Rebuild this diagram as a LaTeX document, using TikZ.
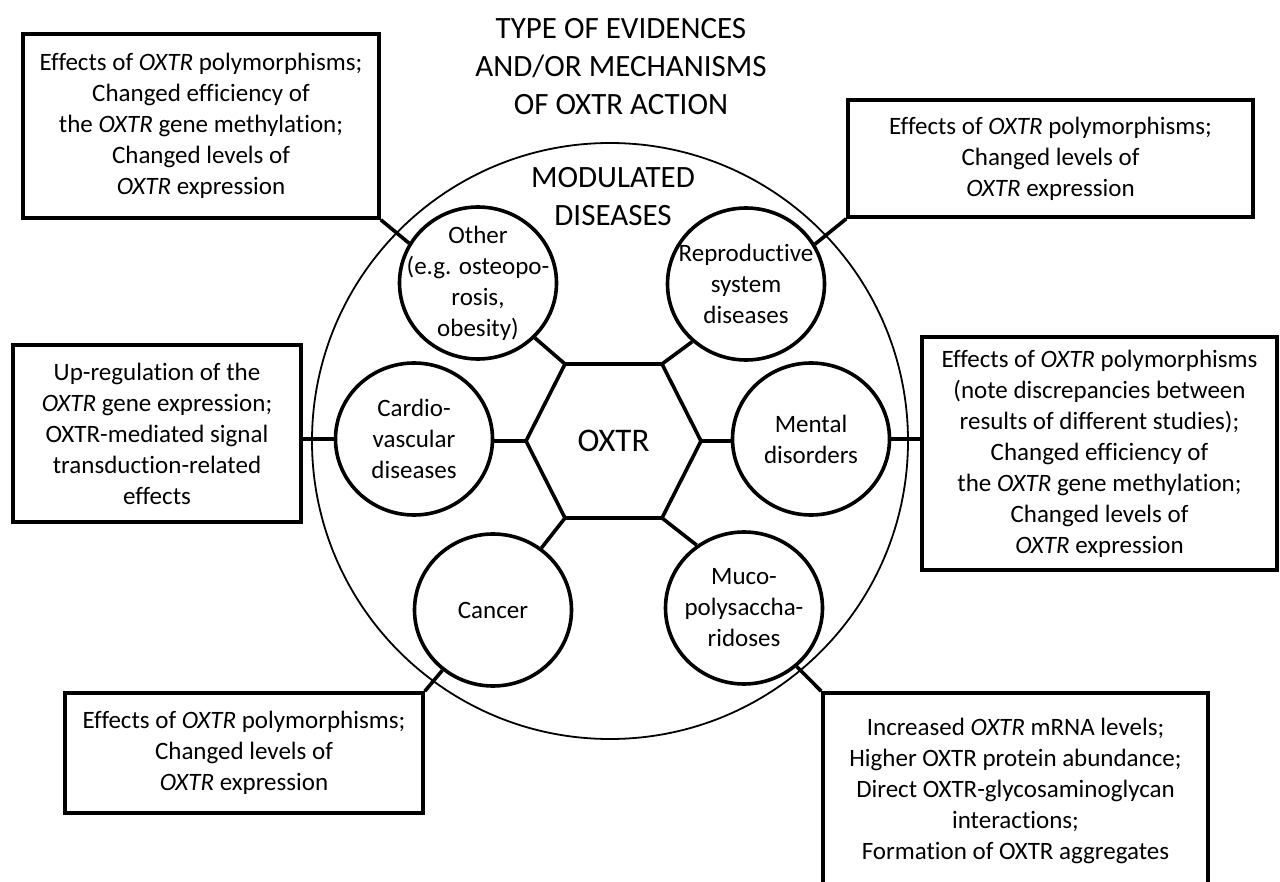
\documentclass[tikz,border=0pt]{standalone}
\usepackage{fontspec}
\setmainfont{Carlito}[Ligatures=NoCommon]
\usetikzlibrary{shapes.geometric}
\begin{document}
\begin{tikzpicture}[x=1pt,y=-1pt,
  txt/.style={font=\fontsize{25}{31}\selectfont, align=center, inner sep=0pt},
  bigtxt/.style={font=\fontsize{31}{38}\selectfont, align=center, inner sep=0pt},
  infobox/.style={draw, line width=3.6pt, txt},
  disease/.style={ellipse, draw, line width=3.6pt, minimum width=157pt, minimum height=152pt, inner sep=0pt},
  link/.style={line width=3.6pt},
  hexline/.style={line width=3.6pt, line join=miter}
]
\useasboundingbox (0,0) rectangle (1280,882);
\clip (0,0) rectangle (1280,882);

% outer circle
\node[circle, draw, line width=1.8pt, minimum size=596pt, inner sep=0pt] (outer) at (610,441) {};

% titles
\node[bigtxt] (title) at (621,67) {TYPE OF EVIDENCES\\AND/OR MECHANISMS\\OF OXTR ACTION};
\node[bigtxt] (modtitle) at (613,197) {MODULATED\\DISEASES};

% hexagon
\coordinate (hTL) at (565,364);
\coordinate (hTR) at (662,364);
\coordinate (hR) at (701,441);
\coordinate (hBR) at (662,518);
\coordinate (hBL) at (565,518);
\coordinate (hL) at (526,441);
\draw[hexline] (hTL) -- (hTR) -- (hR) -- (hBR) -- (hBL) -- (hL) -- cycle;
\node[font=\fontsize{33}{38}\selectfont, inner sep=0pt] (oxtr) at (613.5,441) {OXTR};

% disease circles
\node[disease] (other) at (478,283) {};
\node[txt] (otherT) at (other) {Other\\(e.g. osteopo-\\rosis,\\obesity)};
\node[disease] (repro) at (746,284) {};
\node[txt] (reproT) at (repro) {Reproductive\\system\\diseases};
\node[disease] (cardio) at (414,439) {};
\node[txt] (cardioT) at (cardio) {Cardio-\\vascular\\diseases};
\node[disease] (mental) at (811,439) {};
\node[txt] (mentalT) at (mental) {Mental\\disorders};
\node[disease] (cancer) at (493,610) {};
\node[txt] (cancerT) at (cancer) {Cancer};
\node[disease] (muco) at (744,608) {};
\node[txt] (mucoT) at (muco) {Muco-\\polysaccha-\\ridoses};

% evidence boxes
\node[infobox, minimum width=356pt, minimum height=184pt] (tl) at (201,126)
  {Effects of \textit{OXTR} polymorphisms;\\Changed efficiency of\\the \textit{OXTR} gene methylation;\\Changed levels of\\\textit{OXTR} expression};
\node[infobox, minimum width=405pt, minimum height=117pt] (tr) at (1050.5,158.5)
  {Effects of \textit{OXTR} polymorphisms;\\Changed levels of\\\textit{OXTR} expression};
\node[infobox, minimum width=288pt, minimum height=177pt] (lm) at (157,433.5)
  {Up-regulation of the\\\textit{OXTR} gene expression;\\OXTR-mediated signal\\transduction-related\\effects};
\node[infobox, minimum width=355pt, minimum height=233pt] (rm) at (1099.5,453.5)
  {Effects of \textit{OXTR} polymorphisms\\(note discrepancies between\\results of different studies);\\Changed efficiency of\\the \textit{OXTR} gene methylation;\\Changed levels of\\\textit{OXTR} expression};
\node[infobox, minimum width=358pt, minimum height=120pt] (bl) at (244,753)
  {Effects of \textit{OXTR} polymorphisms;\\Changed levels of\\\textit{OXTR} expression};
\node[infobox, minimum width=385pt, minimum height=196pt] (br) at (1015.5,791)
  {Increased \textit{OXTR} mRNA levels;\\Higher OXTR protein abundance;\\Direct OXTR-glycosaminoglycan\\interactions;\\Formation of OXTR aggregates};

% hexagon to circles
\draw[link] (hTL) -- (other.-44);
\draw[link] (hTR) -- (repro.227);
\draw[link] (hL) -- (hL -| cardio.east);
\draw[link] (hR) -- (hR -| mental.west);
\draw[link] (hBL) -- (cancer.52);
\draw[link] (hBR) -- (muco.127);

% circles to boxes
\draw[link] (tl.south east) -- (other.150);
\draw[link] (tr.south west) -- (repro.30);
\draw[link] (cardio.west) -- (cardio.west -| lm.east);
\draw[link] (mental.east) -- (mental.east -| rm.west);
\draw[link] (bl.north east) -- (cancer.230);
\draw[link] (br.north west) -- (muco.-48);
\end{tikzpicture}
\end{document}
